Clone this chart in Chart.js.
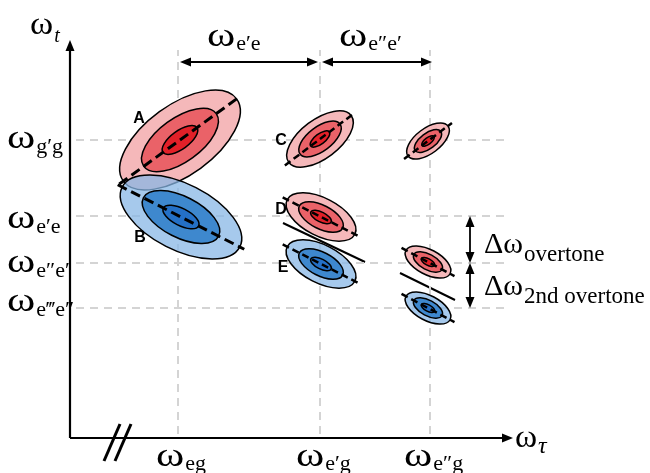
<!DOCTYPE html>
<html>
<head>
<meta charset="utf-8">
<script src="https://cdn.jsdelivr.net/npm/chart.js@4.4.1/dist/chart.umd.min.js"></script>
<style>
  html, body { margin: 0; padding: 0; background: #fff; }
  #wrap { width: 650px; height: 473px; }
</style>
</head>
<body>
<div id="wrap"><canvas id="c"></canvas></div>
<script>
// frequencies in arbitrary units, origin at the corner of the axes
const tauTicks = [10.8, 25.0, 36.0];
const tauLabels = ['eg', 'e\u2032g', 'e\u2033g'];
const tTicks = [29.8, 22.2, 17.5, 13.0];
const tLabels = ['g\u2032g', 'e\u2032e', 'e\u2033e\u2032', 'e\u2034e\u2033'];

// 2D peaks
const peakNames = ['A', 'B', 'C', 'D', 'E', '', '', ''];
const peakTau = [11.0, 11.1, 25.0, 25.1, 25.1, 35.8, 35.8, 35.8];
const peakT = [29.8, 22.1, 29.9, 22.1, 17.4, 29.7, 17.6, 13.0];
const peakWidth = [7.0, 6.6, 3.9, 3.8, 3.8, 2.5, 2.5, 2.5];
const peakTilt = [36, -27, 37, -27, -27, 37, -28, -28];
const peakSign = [1, -1, 1, 1, -1, 1, 1, -1];

// nodal lines between the overtone pairs
const nodeStart = [[21.3, 21.5], [33.0, 16.5]];
const nodeEnd = [[29.5, 17.6], [38.5, 13.8]];

const contours = [{a: 1, b: 0.5}, {a: 0.64, b: 0.31}, {a: 0.3, b: 0.13}];
const redFill = ['rgb(245,184,186)', 'rgb(234,98,104)', 'rgb(226,32,40)'];
const blueFill = ['rgba(135,182,230,0.74)', 'rgb(62,136,206)', 'rgb(36,112,198)'];
const letterShift = [[-41, -21], [-41, 21], [-39, 2], [-40, -7], [-38, 4]];
const tLabelShift = [0, 4, 1, -5];

const datasets = [];
const grid = {showLine: true, borderColor: '#d4d4d4', borderWidth: 2, borderDash: [8, 6], pointRadius: 0, fill: false};
tauTicks.forEach(v => {
  datasets.push(Object.assign({data: [{x: v, y: 0.4}, {x: v, y: 38.8}]}, grid));
});
tTicks.forEach(v => {
  datasets.push(Object.assign({data: [{x: 0.6, y: v}, {x: 44.0, y: v}]}, grid));
});
nodeStart.forEach((p, i) => {
  datasets.push({data: [{x: p[0], y: p[1]}, {x: nodeEnd[i][0], y: nodeEnd[i][1]}],
    showLine: true, borderColor: '#000', borderWidth: 2, pointRadius: 0});
});
// axes
datasets.push({data: [{x: 0, y: 0}, {x: 0, y: 38.8}], showLine: true, borderColor: '#000', borderWidth: 2.2, pointRadius: 0});
datasets.push({data: [{x: 0, y: 0}, {x: 43.3, y: 0}], showLine: true, borderColor: '#000', borderWidth: 2.2, pointRadius: 0});

function arrowHead(ctx, x, y, dx, dy) {
  const L = 11, W = 4.5;
  ctx.beginPath();
  ctx.moveTo(x, y);
  ctx.lineTo(x - dx * L - dy * W, y - dy * L + dx * W);
  ctx.lineTo(x - dx * L + dy * W, y - dy * L - dx * W);
  ctx.closePath();
  ctx.fill();
}

function doubleArrow(ctx, x1, y1, x2, y2) {
  const len = Math.hypot(x2 - x1, y2 - y1);
  const dx = (x2 - x1) / len, dy = (y2 - y1) / len;
  ctx.lineWidth = 1.8;
  ctx.beginPath();
  ctx.moveTo(x1 + dx * 6, y1 + dy * 6);
  ctx.lineTo(x2 - dx * 6, y2 - dy * 6);
  ctx.stroke();
  arrowHead(ctx, x2, y2, dx, dy);
  arrowHead(ctx, x1, y1, -dx, -dy);
}

// base symbol (optionally stretched wide) followed by a lowered subscript
function subLabel(ctx, x, y, base, sub, baseFont, subFont, dy, stretch) {
  const sx = stretch || 1;
  ctx.font = baseFont;
  ctx.save();
  ctx.translate(x, y);
  ctx.scale(sx, 1);
  ctx.fillText(base, 0, 0);
  ctx.restore();
  const w = ctx.measureText(base).width * sx;
  ctx.font = subFont;
  ctx.fillText(sub, x + w + 1, y + dy);
}

const drawPeaks = {
  id: 'drawPeaks',
  afterDatasetsDraw(chart) {
    const ctx = chart.ctx;
    const xs = chart.scales.x, ys = chart.scales.y;
    const k = xs.getPixelForValue(1) - xs.getPixelForValue(0);
    ctx.save();

    // contour ellipses
    peakTau.forEach((tau, i) => {
      const cx = xs.getPixelForValue(tau), cy = ys.getPixelForValue(peakT[i]);
      const rot = -peakTilt[i] * Math.PI / 180;
      const fills = peakSign[i] > 0 ? redFill : blueFill;
      contours.forEach((c, j) => {
        ctx.beginPath();
        ctx.ellipse(cx, cy, c.a * peakWidth[i] * k, c.b * peakWidth[i] * k, rot, 0, 2 * Math.PI);
        ctx.fillStyle = fills[j];
        ctx.fill();
        ctx.lineWidth = 1.5;
        ctx.strokeStyle = '#000';
        ctx.stroke();
      });
    });

    // dashed main axes of the peaks
    peakTau.forEach((tau, i) => {
      const cx = xs.getPixelForValue(tau), cy = ys.getPixelForValue(peakT[i]);
      const t = peakTilt[i] * Math.PI / 180;
      const h = (peakWidth[i] + 0.5) * k;
      const big = peakWidth[i] > 5;
      ctx.setLineDash(big ? [10, 5] : [7, 4]);
      ctx.lineWidth = big ? 3 : 2.5;
      ctx.beginPath();
      ctx.moveTo(cx - h * Math.cos(t), cy + h * Math.sin(t));
      ctx.lineTo(cx + h * Math.cos(t), cy - h * Math.sin(t));
      ctx.stroke();
    });
    ctx.setLineDash([]);

    ctx.fillStyle = '#000';
    ctx.strokeStyle = '#000';
    // axis arrow heads
    arrowHead(ctx, xs.getPixelForValue(0), ys.getPixelForValue(39.8), 0, -1);
    arrowHead(ctx, xs.getPixelForValue(44.3), ys.getPixelForValue(0), 1, 0);

    // axis break
    ctx.lineWidth = 3;
    [4.2, 5.3].forEach(v => {
      const x = xs.getPixelForValue(v), y = ys.getPixelForValue(0);
      ctx.beginPath();
      ctx.moveTo(x - 8, y + 23);
      ctx.lineTo(x + 8, y - 14);
      ctx.stroke();
    });

    // spacing arrows
    const yTop = ys.getPixelForValue(37.6);
    doubleArrow(ctx, xs.getPixelForValue(tauTicks[0]) + 2, yTop, xs.getPixelForValue(tauTicks[1]) - 2, yTop);
    doubleArrow(ctx, xs.getPixelForValue(tauTicks[1]) + 2, yTop, xs.getPixelForValue(tauTicks[2]) + 2, yTop);
    const xD = xs.getPixelForValue(40.0);
    doubleArrow(ctx, xD, ys.getPixelForValue(tTicks[1]), xD, ys.getPixelForValue(tTicks[2]));
    doubleArrow(ctx, xD, ys.getPixelForValue(tTicks[2]), xD, ys.getPixelForValue(tTicks[3]));

    // peak letters
    ctx.textAlign = 'center';
    ctx.textBaseline = 'middle';
    ctx.font = 'bold 16px "Liberation Sans", Arial, sans-serif';
    peakNames.forEach((n, i) => {
      if (!n) return;
      ctx.fillText(n, xs.getPixelForValue(peakTau[i]) + letterShift[i][0], ys.getPixelForValue(peakT[i]) + letterShift[i][1]);
    });

    // text labels
    ctx.textAlign = 'left';
    ctx.textBaseline = 'alphabetic';
    const serif = '"Liberation Serif", "Times New Roman", serif';
    const big = '33px ' + serif, small = '22px ' + serif;
    tauTicks.forEach((v, i) => {
      subLabel(ctx, xs.getPixelForValue(v) - 22 - i * 2, 466, '\u03c9', tauLabels[i], big, small, 4, 1.3);
    });
    tTicks.forEach((v, i) => {
      subLabel(ctx, 7, ys.getPixelForValue(v) + 8 + tLabelShift[i], '\u03c9', tLabels[i], big, small, 5, 1.3);
    });
    subLabel(ctx, 207, 46, '\u03c9', tLabels[1], big, small, 4, 1.3);
    subLabel(ctx, 339, 46, '\u03c9', tLabels[2], big, small, 4, 1.3);
    subLabel(ctx, 515, 447, '\u03c9', '\u03c4', '32px ' + serif, 'italic 24px ' + serif, 6, 1.05);
    subLabel(ctx, 30, 34, '\u03c9', 't', '32px ' + serif, 'italic 20px ' + serif, 8, 1.1);
    subLabel(ctx, 484, 253, '\u0394\u03c9', 'overtone', '30px ' + serif, '23px ' + serif, 8);
    subLabel(ctx, 484, 295, '\u0394\u03c9', '2nd overtone', '30px ' + serif, '23px ' + serif, 8);

    ctx.restore();
  }
};

new Chart(document.getElementById('c'), {
  type: 'scatter',
  data: {datasets: datasets},
  options: {
    responsive: true,
    maintainAspectRatio: false,
    animation: false,
    layout: {padding: 0},
    scales: {
      x: {type: 'linear', min: -7.0, max: 58.0, display: false},
      y: {type: 'linear', min: -3.5, max: 43.8, display: false}
    },
    plugins: {legend: {display: false}, tooltip: {enabled: false}}
  },
  plugins: [drawPeaks]
});
</script>
</body>
</html>
